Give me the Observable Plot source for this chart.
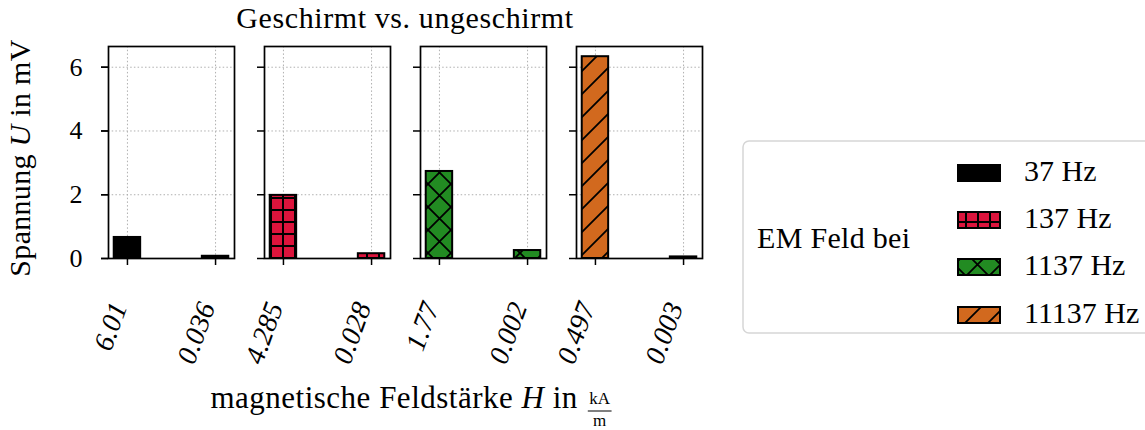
<!DOCTYPE html>
<html>
<head>
<meta charset="utf-8">
<script src="https://cdn.jsdelivr.net/npm/d3@7"></script>
<script src="https://cdn.jsdelivr.net/npm/@observablehq/plot@0.6"></script>
<style>
  body { margin: 0; background: #fff; }
  #wrap { position: relative; width: 1145px; height: 430px; overflow: hidden; background: #fff; }
  #chart { position: absolute; left: 0; top: 0; }
  #overlay { position: absolute; left: 0; top: 0; pointer-events: none; }
  #overlay text { font-family: "Liberation Serif", serif; fill: #000; }
</style>
</head>
<body>
<div id="wrap">
  <div id="chart"></div>
  <svg id="overlay" width="1145" height="430" xmlns="http://www.w3.org/2000/svg">
    <defs>
      <pattern id="hatch-plus" patternUnits="userSpaceOnUse" width="12" height="12">
        <rect width="12" height="12" fill="#DC143C"/>
        <path d="M0,6H12M6,0V12" stroke="#000" stroke-width="2"/>
      </pattern>
      <pattern id="hatch-cross" patternUnits="userSpaceOnUse" width="23" height="23">
        <rect width="23" height="23" fill="#228B22"/>
        <path d="M-3,-3L26,26M20,-3L26,3M-3,20L3,26M-3,26L26,-3M-3,3L3,-3M20,26L26,20" stroke="#000" stroke-width="1.8"/>
      </pattern>
      <pattern id="hatch-slash" patternUnits="userSpaceOnUse" width="23" height="23">
        <rect width="23" height="23" fill="#D2691E"/>
        <path d="M-3,26L26,-3M-3,3L3,-3M20,26L26,20" stroke="#000" stroke-width="1.8"/>
      </pattern>
    </defs>
    <g id="texts"></g>
  </svg>
</div>
<script>
// ---- data ----
const frequencies = ["37 Hz", "137 Hz", "1137 Hz", "11137 Hz"];
const barFills = ["#000000", "url(#hatch-plus)", "url(#hatch-cross)", "url(#hatch-slash)"];
const voltageFirst = [0.66, 1.98, 2.73, 6.33];
const voltageSecond = [0.07, 0.15, 0.25, 0.05];
const fieldFirst = ["6.01", "4.285", "1.77", "0.497"];
const fieldSecond = ["0.036", "0.028", "0.002", "0.003"];
const yTicks = [0, 2, 4, 6];
const xPositions = [0, 1];
const titleText = "Geschirmt vs. ungeschirmt";
const legendTitle = "EM Feld bei";

// ---- table ----
const rows = [];
frequencies.forEach((f, i) => {
  rows.push({freq: f, pos: 0, value: voltageFirst[i], h: fieldFirst[i], fill: barFills[i]});
  rows.push({freq: f, pos: 1, value: voltageSecond[i], h: fieldSecond[i], fill: barFills[i]});
});

const gridStyle = {stroke: "#b0b0b0", strokeOpacity: 1, strokeWidth: 1, strokeDasharray: "1.5,2.2"};

const chart = Plot.plot({
  width: 720,
  height: 430,
  marginTop: 46,
  marginBottom: 172,
  marginLeft: 107,
  marginRight: 17,
  style: {fontFamily: "Liberation Serif, serif", fontSize: "25px", color: "#000", background: "transparent", overflow: "visible"},
  fx: {domain: frequencies, paddingInner: 0.19, paddingOuter: 0, axis: null, label: null},
  x: {domain: [-0.215, 1.215], axis: null},
  y: {domain: [0, 6.65], axis: null},
  color: {type: "identity"},
  marks: [
    Plot.gridX({ticks: xPositions, ...gridStyle}),
    Plot.gridY({ticks: yTicks, ...gridStyle}),
    Plot.rect(rows, {
      fx: "freq",
      x1: d => d.pos - 0.15,
      x2: d => d.pos + 0.15,
      y1: 0,
      y2: "value",
      fill: "fill",
      stroke: "#000",
      strokeWidth: 2
    }),
    Plot.frame({stroke: "#000", strokeWidth: 1.7}),
    Plot.axisY({ticks: yTicks, tickSize: 7, tickPadding: 19, fontSize: 26, tickFormat: d => d.toFixed(0), label: null, strokeWidth: 1.5}),
    Plot.axisY({ticks: yTicks, tickSize: 7, tickFormat: () => "", facetAnchor: null, label: null, strokeWidth: 1.5}),
    Plot.axisX({ticks: xPositions, tickSize: 7, tickFormat: () => "", facetAnchor: null, label: null, strokeWidth: 1.5}),
    Plot.text(rows, {
      fx: "freq",
      x: "pos",
      text: "h",
      frameAnchor: "bottom",
      dy: 48,
      rotate: -70,
      textAnchor: "end",
      lineAnchor: "bottom",
      fontStyle: "italic",
      fontSize: 28
    })
  ]
});
document.getElementById("chart").appendChild(chart);

// ---- overlay texts: title, axis labels, legend ----
const NS = "http://www.w3.org/2000/svg";
const g = document.getElementById("texts");
function el(tag, attrs, parent = g) {
  const e = document.createElementNS(NS, tag);
  for (const k in attrs) e.setAttribute(k, attrs[k]);
  parent.appendChild(e);
  return e;
}
function txt(str, attrs, parent = g) {
  const t = el("text", attrs, parent);
  t.textContent = str;
  return t;
}

// title
txt(titleText, {x: 405, y: 28, "text-anchor": "middle", "font-size": 30, "letter-spacing": 0.6});

// y label
const yl = el("text", {transform: "translate(30,158) rotate(-90)", "text-anchor": "middle", "font-size": 30, "letter-spacing": 0.3});
yl.appendChild(document.createTextNode("Spannung "));
const yu = el("tspan", {"font-style": "italic"}, yl); yu.textContent = "U";
yl.appendChild(document.createTextNode(" in mV"));

// x label with fraction
const xg = el("g", {});
const xl = el("text", {x: 0, y: 408, "font-size": 31, "letter-spacing": 0.5}, xg);
xl.appendChild(document.createTextNode("magnetische Feldstärke "));
const xh = el("tspan", {"font-style": "italic"}, xl); xh.textContent = "H";
xl.appendChild(document.createTextNode(" in"));
const mainW = xl.getComputedTextLength() + 10;
const num = txt("kA", {x: mainW, y: 404, "text-anchor": "middle", "font-size": 17}, xg);
const den = txt("m", {x: mainW, y: 426, "text-anchor": "middle", "font-size": 17}, xg);
const fw = Math.max(num.getComputedTextLength(), den.getComputedTextLength()) + 3;
num.setAttribute("x", mainW + fw / 2);
den.setAttribute("x", mainW + fw / 2);
el("line", {x1: mainW, x2: mainW + fw, y1: 411, y2: 411, stroke: "#000", "stroke-width": 1}, xg);
const totalW = mainW + fw;
xg.setAttribute("transform", `translate(${411 - totalW / 2},0)`);

// legend
el("rect", {x: 743, y: 141, width: 430, height: 192, rx: 6, fill: "#fff", stroke: "#d6d6d6", "stroke-width": 1.5});
txt(legendTitle, {x: 757, y: 248, "font-size": 30, "letter-spacing": 0.3});
const swatchTops = [165, 212, 259, 307];
frequencies.forEach((f, i) => {
  el("rect", {x: 958, y: swatchTops[i], width: 42, height: 16, fill: barFills[i], stroke: "#000", "stroke-width": 2});
  txt(f, {x: 1024, y: swatchTops[i] + 16, "font-size": 30});
});
</script>
</body>
</html>
